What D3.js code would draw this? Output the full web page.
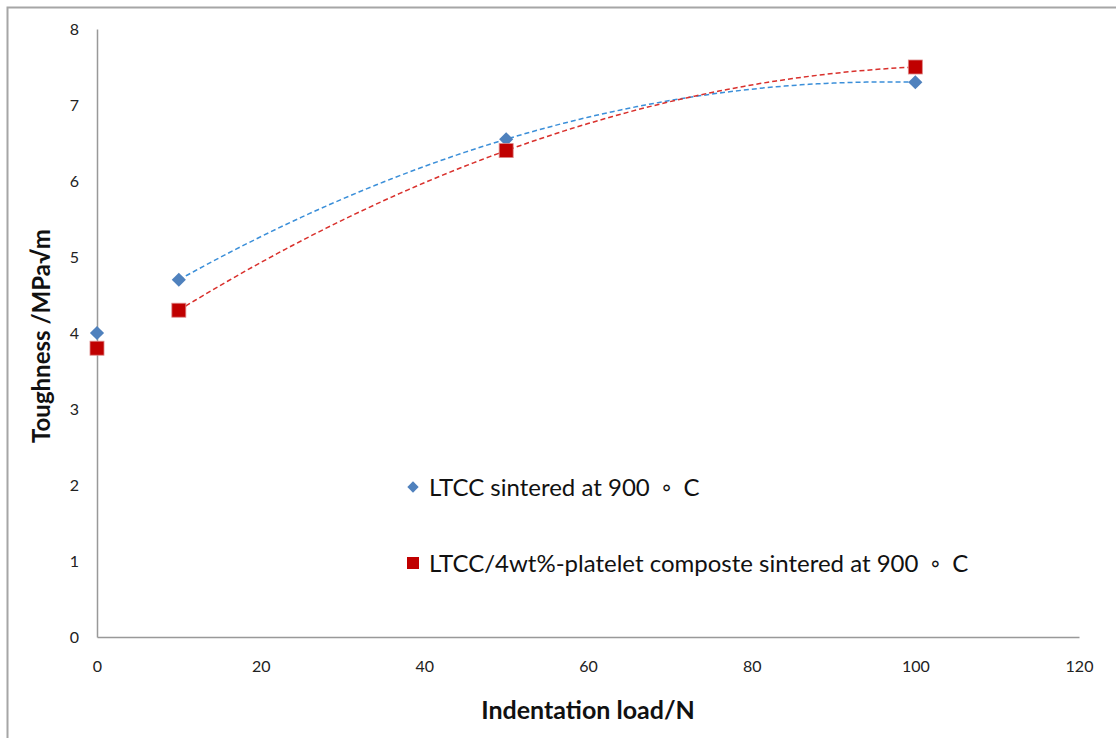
<!DOCTYPE html>
<html>
<head>
  <script src="https://cdnjs.cloudflare.com/ajax/libs/d3/7.8.5/d3.min.js"></script>
  <style>
    body { margin: 0; background: #fff; }
    svg text { font-family: Lato, "Noto Sans", sans-serif; }
  </style>
</head>
<body>
  <div id="chart"></div>
  <script>
    // data
    var loads = [0, 10, 50, 100];
    var ltcc = [4.0, 4.7, 6.55, 7.3];
    var composite = [3.8, 4.3, 6.4, 7.5];
    var seriesNames = ["LTCC sintered at 900\u2002\u25E6\u2002C", "LTCC/4wt%-platelet composte sintered at 900\u2002\u25E6\u2002C"];
    var xTicks = [0, 20, 40, 60, 80, 100, 120];
    var yTicks = [0, 1, 2, 3, 4, 5, 6, 7, 8];

    var W = 1116, H = 738;
    var svg = d3.select("#chart").append("svg")
      .attr("width", W)
      .attr("height", H);

    // outer frame (only top and left edges show)
    svg.append("rect")
      .attr("x", 7.5).attr("y", 7.5)
      .attr("width", W + 20).attr("height", H + 20)
      .attr("fill", "none")
      .attr("stroke", "#a6a6a6")
      .attr("stroke-width", 2);

    var x = d3.scaleLinear().domain([0, 120]).range([97, 1079]);
    var y = d3.scaleLinear().domain([0, 8]).range([637, 29]);

    // axes
    var xAxis = svg.append("g")
      .attr("transform", "translate(0," + y(0) + ")")
      .call(d3.axisBottom(x).tickValues(xTicks).tickSize(0).tickPadding(24));
    var yAxis = svg.append("g")
      .attr("transform", "translate(" + x(0) + ",0)")
      .call(d3.axisLeft(y).tickValues(yTicks).tickSize(0).tickPadding(18));

    [xAxis, yAxis].forEach(function(a) {
      a.select(".domain").attr("stroke", "#999").attr("stroke-width", 1.5);
      a.selectAll("text").attr("font-size", 16).attr("fill", "#222");
    });

    // 2nd order trendline through the points from 10 N on
    function quadFit(xs, ys) {
      // least squares y = a + b x + c x^2
      var n = xs.length, s = [0, 0, 0, 0, 0], t = [0, 0, 0];
      for (var i = 0; i < n; i++) {
        var xi = xs[i];
        for (var k = 0; k < 5; k++) s[k] += Math.pow(xi, k);
        for (var k2 = 0; k2 < 3; k2++) t[k2] += ys[i] * Math.pow(xi, k2);
      }
      var M = [[s[0], s[1], s[2], t[0]], [s[1], s[2], s[3], t[1]], [s[2], s[3], s[4], t[2]]];
      for (var c = 0; c < 3; c++) {
        for (var r = c + 1; r < 3; r++) {
          var f = M[r][c] / M[c][c];
          for (var j = c; j < 4; j++) M[r][j] -= f * M[c][j];
        }
      }
      var coef = [0, 0, 0];
      for (var r2 = 2; r2 >= 0; r2--) {
        var sum = M[r2][3];
        for (var j2 = r2 + 1; j2 < 3; j2++) sum -= M[r2][j2] * coef[j2];
        coef[r2] = sum / M[r2][r2];
      }
      return function(v) { return coef[0] + coef[1] * v + coef[2] * v * v; };
    }

    var line = d3.line().x(function(d) { return x(d[0]); }).y(function(d) { return y(d[1]); });

    function trend(vals, color) {
      var fn = quadFit(loads.slice(1), vals.slice(1));
      var pts = d3.range(10, 100.5, 1).map(function(v) { return [v, fn(v)]; });
      svg.append("path")
        .attr("d", line(pts))
        .attr("fill", "none")
        .attr("stroke", color)
        .attr("stroke-width", 1.5)
        .attr("stroke-dasharray", "5,3");
    }
    trend(ltcc, "#3b8fd9");
    trend(composite, "#d9302c");

    var diamond = d3.symbol().type(d3.symbolSquare).size(100);

    // blue diamonds
    svg.selectAll(".blue")
      .data(loads.map(function(l, i) { return [l, ltcc[i]]; }))
      .enter().append("path")
      .attr("class", "blue")
      .attr("d", diamond)
      .attr("transform", function(d) { return "translate(" + x(d[0]) + "," + y(d[1]) + ") rotate(45)"; })
      .attr("fill", "#4f81bd");

    // red squares
    svg.selectAll(".red")
      .data(loads.map(function(l, i) { return [l, composite[i]]; }))
      .enter().append("rect")
      .attr("class", "red")
      .attr("x", function(d) { return x(d[0]) - 7; })
      .attr("y", function(d) { return y(d[1]) - 7; })
      .attr("width", 14).attr("height", 14)
      .attr("fill", "#c00000")
      .attr("stroke", "#d88")
      .attr("stroke-width", 0.8);

    // legend
    var lg = svg.append("g");
    lg.append("path")
      .attr("d", d3.symbol().type(d3.symbolSquare).size(64))
      .attr("transform", "translate(413,487) rotate(45)")
      .attr("fill", "#4f81bd");
    lg.append("text")
      .attr("x", 429).attr("y", 496)
      .attr("font-size", 24).attr("fill", "#111")
      .text(seriesNames[0]);
    lg.append("rect")
      .attr("x", 407).attr("y", 557).attr("width", 12).attr("height", 12)
      .attr("fill", "#c00000");
    lg.append("text")
      .attr("x", 429).attr("y", 572)
      .attr("font-size", 24).attr("fill", "#111")
      .text(seriesNames[1]);

    // axis titles
    svg.append("text")
      .attr("x", 588).attr("y", 719)
      .attr("text-anchor", "middle")
      .attr("font-size", 25).attr("font-weight", "bold")
      .attr("fill", "#111")
      .text("Indentation load/N");

    svg.append("text")
      .attr("transform", "translate(50,336) rotate(-90)")
      .attr("text-anchor", "middle")
      .attr("font-size", 24).attr("font-weight", "bold")
      .attr("fill", "#111")
      .text("Toughness /MPa\u221Am");
  </script>
</body>
</html>
